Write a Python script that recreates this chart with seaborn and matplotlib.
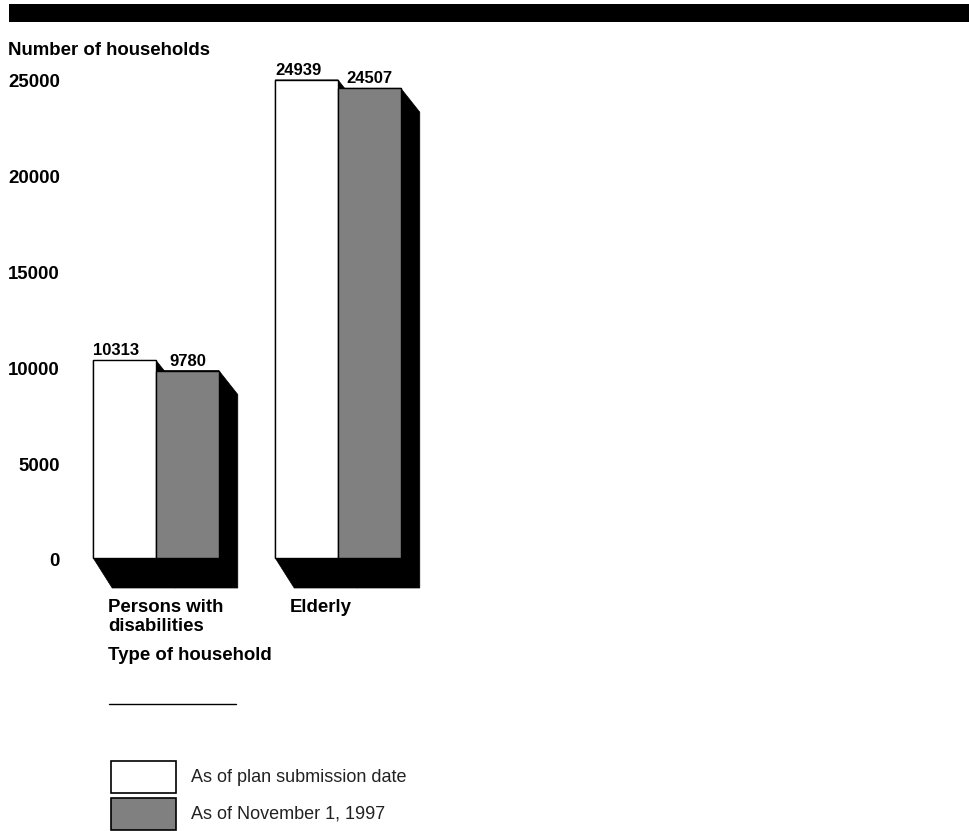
import numpy as np
import pandas as pd
import seaborn as sns
import matplotlib
matplotlib.use("Agg")
import matplotlib.pyplot as plt
from matplotlib.patches import Rectangle, Polygon
from matplotlib.transforms import ScaledTranslation
from matplotlib.lines import Line2D

# ---- data ----
categories = ["Persons with\ndisabilities", "Elderly"]
series_names = ["As of plan submission date", "As of November 1, 1997"]
plan_values = [10313, 24939]
nov_values = [9780, 24507]
y_ticks = [0, 5000, 10000, 15000, 20000, 25000]
colors = ["#ffffff", "#808080"]

W, H, DPI = 969, 831, 100
sns.set_theme(style="white")
plt.rcParams["font.family"] = ["Liberation Sans", "DejaVu Sans"]

fig = plt.figure(figsize=(W / DPI, H / DPI), dpi=DPI)
fig.patch.set_facecolor("white")


def fx(px):
    return px / W


def fy(py):
    return 1 - py / H


ax_l, ax_r, ax_t, ax_b = 60, 480, 60, 595
ax = fig.add_axes([fx(ax_l), fy(ax_b), (ax_r - ax_l) / W, (ax_b - ax_t) / H])
ax.set_facecolor("none")

df = pd.DataFrame({
    "Type of household": categories * 2,
    "Series": [s for s in series_names for _ in categories],
    "Households": plan_values + nov_values,
})

sns.barplot(data=df, x="Type of household", y="Households", hue="Series",
            order=categories, hue_order=series_names, palette=colors,
            width=0.69, gap=0, edgecolor="black", linewidth=1.0,
            saturation=1, legend=False, errorbar=None, ax=ax)

ky = 0.01917  # px per unit
kx = 182.0    # px per category
y0_px = 558
x0_px = 156
ax.set_ylim(-(ax_b - y0_px) / ky, (y0_px - ax_t) / ky)
ax.set_xlim((ax_l - x0_px) / kx, (ax_r - x0_px) / kx)

# shadows
dx = 19 / kx
dyb = 30 / ky
dyt = 24 / ky
bars = list(ax.patches)
for p in bars:
    p.set_zorder(3)
    x0 = p.get_x()
    x1 = x0 + p.get_width()
    h = p.get_height()
    poly = Polygon([(x0, 0), (x0 + dx, -dyb), (x1 + dx, -dyb),
                    (x1 + dx, h - dyt), (x1, h), (x0, h)],
                   closed=True, facecolor="black", edgecolor="black",
                   linewidth=0.5, zorder=1, clip_on=False)
    ax.add_patch(poly)

# value labels
for ci, cont in enumerate(ax.containers):
    for p in cont:
        h = p.get_height()
        off = ScaledTranslation(0, 5 / DPI, fig.dpi_scale_trans)
        if ci == 0:
            ax.text(p.get_x(), h, f"{int(h)}", ha="left", va="baseline",
                    fontsize=12, fontweight="bold", color="black",
                    transform=ax.transData + off)
        else:
            ax.text(p.get_x() + p.get_width() / 2, h, f"{int(h)}",
                    ha="center", va="baseline", fontsize=12,
                    fontweight="bold", color="black",
                    transform=ax.transData + off)

# axes styling
for s in ax.spines.values():
    s.set_visible(False)
ax.set_xlabel("")
ax.set_ylabel("")
ax.set_yticks(y_ticks)
ax.set_yticklabels([str(v) for v in y_ticks], fontsize=13.4,
                   fontweight="bold", color="black")
ax.tick_params(axis="y", length=0, pad=0)
shift_y = ScaledTranslation(0, -2 / DPI, fig.dpi_scale_trans)
for lab in ax.get_yticklabels():
    lab.set_transform(lab.get_transform() + shift_y)
ax.set_xticks(range(len(categories)))
ax.set_xticklabels(categories, fontsize=13.4, fontweight="bold",
                   color="black", ha="left", linespacing=1.12)
ax.tick_params(axis="x", length=0, pad=3)
shift = ScaledTranslation(-48 / DPI, 0, fig.dpi_scale_trans)
for lab in ax.get_xticklabels():
    lab.set_transform(lab.get_transform() + shift)

# figure decorations
fig.patches.append(Rectangle((fx(9), fy(22)), 960 / W, 18 / H,
                             transform=fig.transFigure, facecolor="black",
                             edgecolor="none"))
fig.text(fx(8), fy(55), "Number of households", fontsize=13.4,
         fontweight="bold", va="baseline", ha="left", color="black")
fig.text(fx(108), fy(660), "Type of household", fontsize=13.4,
         fontweight="bold", va="baseline", ha="left", color="black")
fig.add_artist(Line2D([fx(109), fx(236)], [fy(704), fy(704)],
                      color="black", lw=1))

# legend
legend_y = [777, 814]
for name, col, yc in zip(series_names, colors, legend_y):
    fig.patches.append(Rectangle((fx(111), fy(yc + 16)), 65 / W, 32 / H,
                                 transform=fig.transFigure, facecolor=col,
                                 edgecolor="black", linewidth=1.2))
    fig.text(fx(191), fy(yc), name, fontsize=13, va="center", ha="left",
             color="#222222")

fig.savefig("out.png", dpi=DPI, facecolor="white")
